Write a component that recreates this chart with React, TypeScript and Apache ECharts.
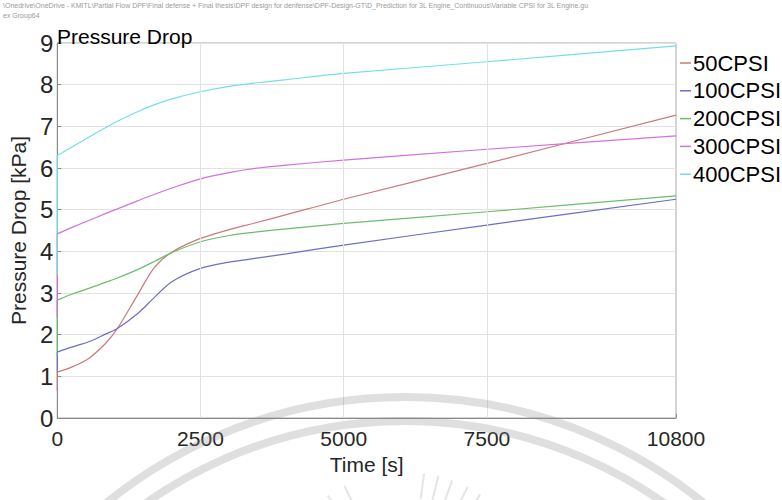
import React, { useEffect, useRef } from "react";
import * as echarts from "echarts";

const times = [0, 0, 250, 550, 850, 1050, 1400, 1700, 2000, 2500, 3000, 3450, 4000, 5000, 7500, 10800];
const cpsi50 = [0.65, 1.1, 1.22, 1.43, 1.8, 2.15, 2.95, 3.62, 3.98, 4.31, 4.52, 4.68, 4.88, 5.25, 6.11, 7.27];
const cpsi100 = [1.1, 1.58, 1.7, 1.83, 2.02, 2.15, 2.5, 2.9, 3.27, 3.59, 3.74, 3.83, 3.94, 4.15, 4.63, 5.25];
const cpsi200 = [1.5, 2.83, 2.97, 3.11, 3.26, 3.36, 3.56, 3.76, 3.97, 4.23, 4.38, 4.46, 4.54, 4.67, 4.95, 5.33];
const cpsi300 = [2.42, 4.42, 4.57, 4.74, 4.91, 5.02, 5.21, 5.37, 5.52, 5.74, 5.89, 5.99, 6.07, 6.19, 6.45, 6.77];
const cpsi400 = [3.43, 6.3, 6.5, 6.74, 6.97, 7.12, 7.35, 7.52, 7.66, 7.83, 7.96, 8.04, 8.12, 8.27, 8.55, 8.93];

const seriesNames = ["50CPSI", "100CPSI", "200CPSI", "300CPSI", "400CPSI"];
const seriesValues = [cpsi50, cpsi100, cpsi200, cpsi300, cpsi400];
const seriesColors = ["#cc7a7a", "#6e6ec6", "#6cbd6c", "#d472dc", "#72e0e4"];
const xTickLabels = [0, 2500, 5000, 7500, 10800];
const xGridValues = [2500, 5000, 7500];

const headerLine1 =
  "\\Onedrive\\OneDrive - KMITL\\Partial Flow DPF\\Final defense + Final thesis\\DPF design for denfense\\DPF-Design-GT\\D_Prediction for 3L Engine_Continuous\\Variable CPSI for 3L Engine.gu";
const headerLine2 = "ex Group64";

const FONT = "'Liberation Sans', Arial, Helvetica, sans-serif";

export default function App() {
  const ref = useRef<HTMLDivElement>(null);
  useEffect(() => {
    if (!ref.current) return;
    const chart = echarts.init(ref.current, undefined, { renderer: "svg" });

    // initial step at t = 0 (first two points), drawn straight
    const jumpSeries = seriesNames.map((name, i) => ({
      name,
      type: "line",
      data: times.slice(0, 2).map((t, j) => [t, seriesValues[i][j]]),
      showSymbol: false,
      symbol: "none",
      smooth: false,
      lineStyle: { color: seriesColors[i], width: 1.2 },
      itemStyle: { color: seriesColors[i] },
      z: 3,
    }));

    // the smooth curves from t = 0 onward
    const lineSeries = seriesNames.map((name, i) => ({
      name,
      type: "line",
      data: times.slice(1).map((t, j) => [t, seriesValues[i][j + 1]]),
      showSymbol: false,
      symbol: "none",
      smooth: 0.3,
      lineStyle: { color: seriesColors[i], width: 1.2 },
      itemStyle: { color: seriesColors[i] },
      z: 3,
    }));

    const cx = 405;
    const cy = 871;
    const rays = [-34, -26, 8, 14, 20, 27, 33].map((deg) => {
      const a = (deg * Math.PI) / 180;
      const c0x = 405, c0y = 610;
      return {
        type: "line",
        shape: {
          x1: c0x + Math.sin(a) * 112,
          y1: c0y - Math.cos(a) * 112,
          x2: c0x + Math.sin(a) * 138,
          y2: c0y - Math.cos(a) * 138,
        },
        style: { stroke: "rgba(150,150,150,0.25)", lineWidth: 2 },
        silent: true,
        z: 10,
      };
    });

    chart.setOption({
      animation: false,
      backgroundColor: "#ffffff",
      textStyle: { fontFamily: FONT },
      title: {
        text: "Pressure Drop",
        left: 57,
        top: 25.5,
        padding: 0,
        textStyle: { fontSize: 21, fontWeight: "normal", color: "#000", fontFamily: FONT, lineHeight: 21 },
      },
      legend: {
        orient: "vertical",
        left: 680,
        top: 52,
        padding: 0,
        itemWidth: 11,
        itemHeight: 1.5,
        itemGap: 5.8,
        icon: "rect",
        data: seriesNames,
        textStyle: { fontSize: 22, color: "#000", fontFamily: FONT, lineHeight: 22, padding: [0, 0, 0, -3] },
      },
      grid: {
        left: 57,
        top: 43,
        right: 106,
        bottom: 82,
        show: true,
        borderColor: "#a8a8a8",
        borderWidth: 1,
        backgroundColor: "transparent",
      },
      xAxis: {
        type: "value",
        min: 0,
        max: 10800,
        name: "Time [s]",
        nameLocation: "middle",
        nameGap: 29,
        nameTextStyle: { fontSize: 21, color: "#262626", fontFamily: FONT },
        axisLine: { show: true, lineStyle: { color: "#8a8a8a" } },
        axisTick: { show: true, inside: true, length: 4, customValues: xTickLabels, lineStyle: { color: "#8a8a8a" } },
        axisLabel: {
          customValues: xTickLabels,
          formatter: (v: number) => String(v),
          fontSize: 21,
          color: "#262626",
          margin: 10,
          fontFamily: FONT,
        },
        splitLine: { show: false },
      },
      yAxis: {
        type: "value",
        min: 0,
        max: 9,
        interval: 1,
        name: "Pressure Drop [kPa]",
        nameLocation: "middle",
        nameGap: 23,
        nameTextStyle: { fontSize: 21, color: "#262626", fontFamily: FONT },
        axisLine: { show: true, lineStyle: { color: "#8a8a8a" } },
        axisTick: { show: true, inside: true, length: 4, lineStyle: { color: "#8a8a8a" } },
        axisLabel: { fontSize: 24, color: "#262626", margin: 4, fontFamily: FONT },
        splitLine: { show: true, lineStyle: { color: "#e2e2e2", width: 1 } },
      },
      series: [
        {
          name: "grid",
          type: "line",
          data: [],
          z: 1,
          markLine: {
            silent: true,
            symbol: ["none", "none"],
            label: { show: false },
            lineStyle: { color: "#e2e2e2", width: 1, type: "solid" },
            data: xGridValues.map((v) => ({ xAxis: v })),
          },
        },
        ...jumpSeries,
        ...lineSeries,
      ],
      graphic: [
        {
          type: "text",
          left: 3,
          top: 2,
          style: { text: headerLine1, fontSize: 7, fill: "#9a9a9a", fontFamily: FONT },
          silent: true,
        },
        {
          type: "text",
          left: 3,
          top: 12,
          style: { text: headerLine2, fontSize: 7, fill: "#9a9a9a", fontFamily: FONT },
          silent: true,
        },
        {
          type: "arc",
          shape: { cx, cy, r: 474, startAngle: -2.36, endAngle: -0.78 },
          style: { stroke: "rgba(140,140,140,0.28)", lineWidth: 8, fill: "none" },
          silent: true,
          z: 10,
        },
        {
          type: "arc",
          shape: { cx, cy, r: 450, startAngle: -2.36, endAngle: -0.78 },
          style: { stroke: "rgba(140,140,140,0.28)", lineWidth: 8, fill: "none" },
          silent: true,
          z: 10,
        },
        ...rays,
      ],
    });
    return () => chart.dispose();
  }, []);
  return (
    <div
      ref={ref}
      style={{ position: "fixed", left: 0, top: 0, width: 782, height: 500, background: "#fff" }}
    />
  );
}
